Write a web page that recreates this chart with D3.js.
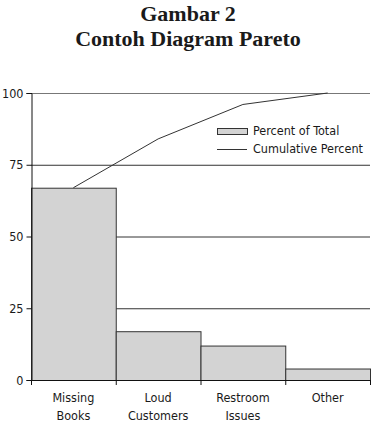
<!DOCTYPE html>
<html>
<head>
<meta charset="utf-8">
<script src="https://cdn.jsdelivr.net/npm/d3@7"></script>
<style>
body { margin: 0; background: #fff; }
svg text { fill: #1a1a1a; }
</style>
</head>
<body>
<script>
// data
var categories = ["Missing Books", "Loud Customers", "Restroom Issues", "Other"];
var labelLines = [["Missing", "Books"], ["Loud", "Customers"], ["Restroom", "Issues"], ["Other"]];
var percentOfTotal = [67, 17, 12, 4];
var cumulative = [67, 84, 96, 100];
var yTicks = [0, 25, 50, 75, 100];

var W = 376, H = 430;
var plotLeft = 31, plotRight = 370, plotTop = 93, plotBottom = 380;
var axisFont = "'DejaVu Sans Condensed', 'DejaVu Sans', sans-serif";

var svg = d3.select("body").append("svg").attr("width", W).attr("height", H);

// title
svg.append("text").attr("x", W / 2).attr("y", 21).attr("text-anchor", "middle")
  .style("font-family", "'Liberation Serif', serif").style("font-weight", "bold").style("font-size", "22px")
  .text("Gambar 2");
svg.append("text").attr("x", W / 2).attr("y", 46).attr("text-anchor", "middle")
  .style("font-family", "'Liberation Serif', serif").style("font-weight", "bold").style("font-size", "22px")
  .text("Contoh Diagram Pareto");

var x = d3.scaleBand().domain(categories).range([plotLeft, plotRight]).padding(0);
var y = d3.scaleLinear().domain([0, 100]).range([plotBottom, plotTop]);

// gridlines
svg.append("g").selectAll("line").data(yTicks.filter(function(d) { return d > 0; })).enter().append("line")
  .attr("x1", plotLeft).attr("x2", plotRight)
  .attr("y1", function(d) { return y(d) + 0.5; }).attr("y2", function(d) { return y(d) + 0.5; })
  .attr("stroke", function(d) { return d == 100 ? "#777" : "#333"; }).attr("stroke-width", 1);

// bars
svg.append("g").selectAll("rect").data(percentOfTotal).enter().append("rect")
  .attr("x", function(d, i) { return x(categories[i]) + 0.5; })
  .attr("y", function(d) { return y(d) + 0.5; })
  .attr("width", x.bandwidth())
  .attr("height", function(d) { return y(0) - y(d); })
  .attr("fill", "#d3d3d3").attr("stroke", "#333").attr("stroke-width", 1);

// cumulative line
var line = d3.line()
  .x(function(d, i) { return x(categories[i]) + x.bandwidth() / 2; })
  .y(function(d) { return y(d); });
svg.append("path").datum(cumulative).attr("d", line)
  .attr("fill", "none").attr("stroke", "#333").attr("stroke-width", 1);

// y axis
var yAxis = svg.append("g").attr("transform", "translate(" + (plotLeft + 0.5) + ",0)")
  .call(d3.axisLeft(y).tickValues(yTicks).tickSize(5).tickPadding(3));
yAxis.select(".domain").attr("stroke", "#111");
yAxis.selectAll(".tick line").attr("stroke", "#111");
yAxis.selectAll("text").style("font-family", axisFont).style("font-size", "12.5px")
  .style("font-stretch", "condensed").attr("fill", "#1a1a1a");

// x axis baseline and ticks
svg.append("line").attr("x1", plotLeft).attr("x2", plotRight).attr("y1", plotBottom + 0.5).attr("y2", plotBottom + 0.5)
  .attr("stroke", "#111");
var edges = categories.map(function(c) { return x(c); }).concat([plotRight]);
svg.append("g").selectAll("line").data(edges).enter().append("line")
  .attr("x1", function(d) { return d + 0.5; }).attr("x2", function(d) { return d + 0.5; })
  .attr("y1", plotBottom).attr("y2", plotBottom + 5).attr("stroke", "#111");

// category labels
var labels = svg.append("g").selectAll("text").data(labelLines).enter().append("text")
  .attr("text-anchor", "middle")
  .style("font-family", axisFont).style("font-size", "12.5px").style("font-stretch", "condensed");
labels.each(function(lines, i) {
  var t = d3.select(this);
  lines.forEach(function(s, j) {
    t.append("tspan").attr("x", x(categories[i]) + x.bandwidth() / 2)
      .attr("y", 402 + j * 18).text(s);
  });
});

// legend
var lg = svg.append("g");
lg.append("rect").attr("x", 217.5).attr("y", 128.5).attr("width", 30).attr("height", 6)
  .attr("fill", "#d3d3d3").attr("stroke", "#333");
lg.append("text").attr("x", 253).attr("y", 135)
  .style("font-family", axisFont).style("font-size", "12.5px").style("font-stretch", "condensed").text("Percent of Total");
lg.append("line").attr("x1", 217).attr("x2", 247).attr("y1", 149.5).attr("y2", 149.5).attr("stroke", "#333");
lg.append("text").attr("x", 253).attr("y", 153)
  .style("font-family", axisFont).style("font-size", "12.5px").style("font-stretch", "condensed").text("Cumulative Percent");
</script>
</body>
</html>
